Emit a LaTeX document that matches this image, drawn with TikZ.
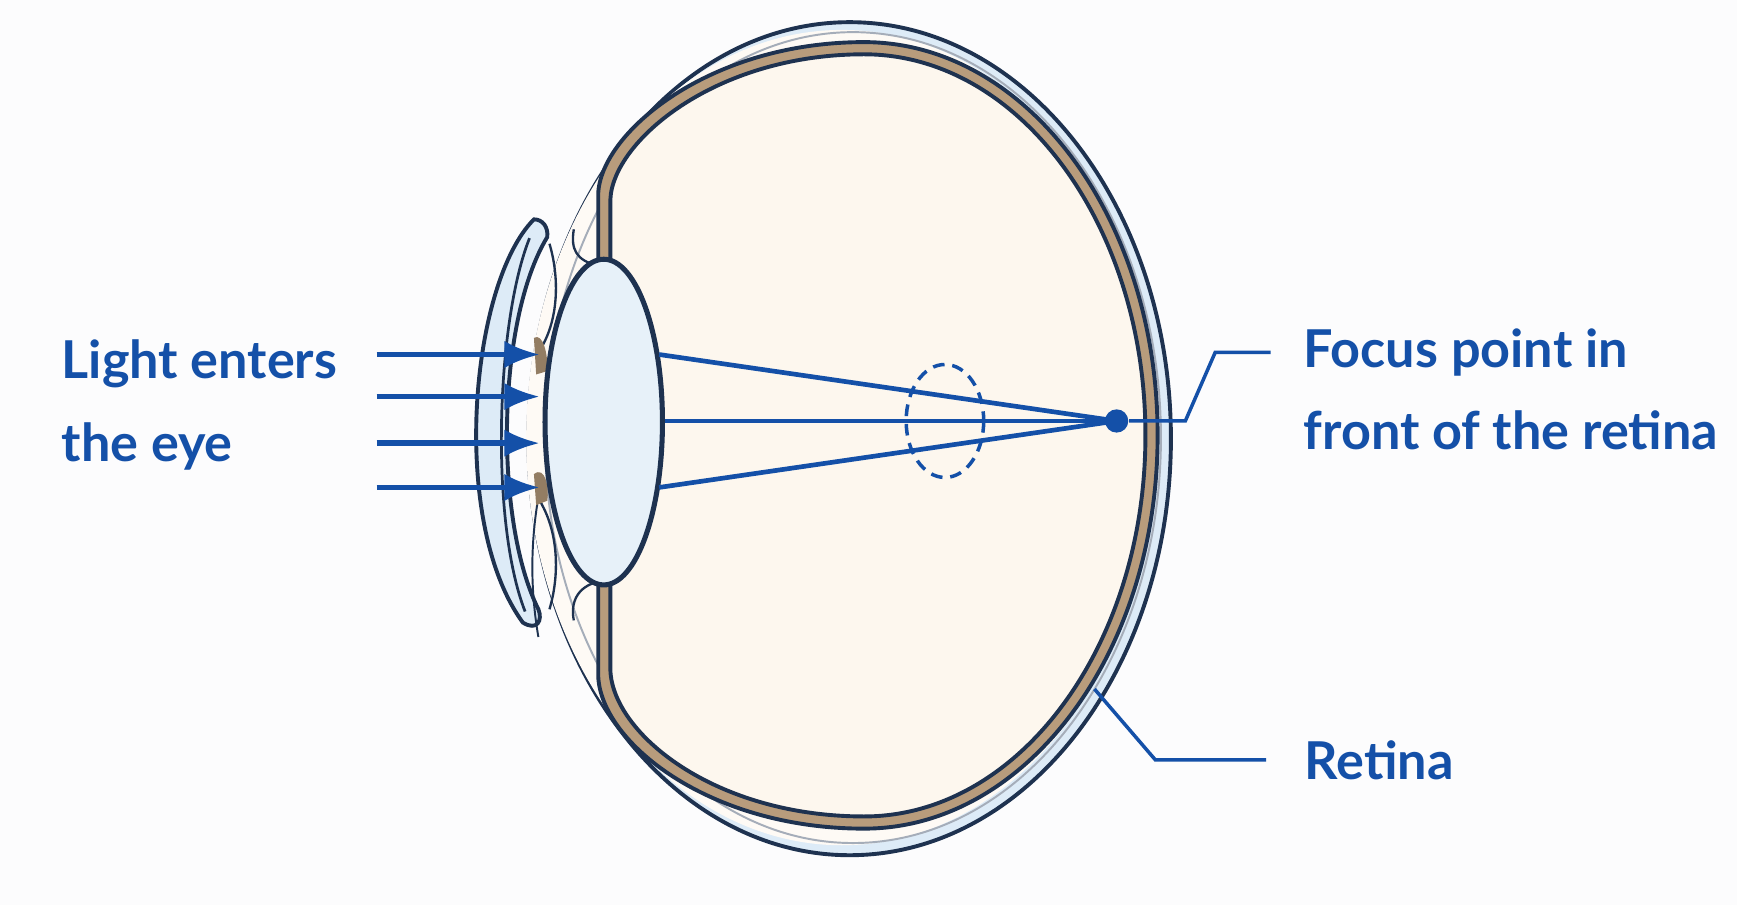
\documentclass[tikz,border=0pt]{standalone}
\usepackage{fontspec}
\setmainfont{Lato}
\usetikzlibrary{arrows.meta}
\begin{document}
\begin{tikzpicture}[x=0.01cm,y=-0.01cm,
  ray/.style={draw=rayc,line width=1.4pt},
  lab/.style={text=rayc,font=\bfseries\fontsize{13.4}{15}\selectfont,anchor=west,inner sep=0},
  lead/.style={draw=rayc,line width=0.9pt}]
\definecolor{rayc}{HTML}{1450A8}
\definecolor{dk}{HTML}{1E3250}
\definecolor{brn}{HTML}{B89C7C}
\definecolor{crm}{HTML}{FDF7EE}
\definecolor{lb}{HTML}{DDEBF7}
\definecolor{bg}{HTML}{FCFCFD}
\useasboundingbox[fill=bg] (0,0) rectangle (1568,817);
% outer globe
\draw[dk,line width=1pt,fill=lb] (767,396) ellipse [x radius=290,y radius=376];
\fill[crm!60!white] (760,395) ellipse [x radius=285,y radius=368];
\draw[dk!40,line width=0.5pt] (770,395) ellipse [x radius=278,y radius=366];
% cornea
\path[draw=dk,line width=1pt,fill=lb] (482,198) .. controls (425,255) and (405,470) .. (472,562)
  .. controls (485,570) and (490,560) .. (486,550)
  .. controls (446,470) and (448,290) .. (494,214) .. controls (495,205) and (490,198) .. cycle;
\draw[dk,line width=0.7pt] (478,215) .. controls (448,290) and (442,470) .. (474,552);
% choroid band
\path[draw=dk,line width=1pt,fill=brn] (540,235) -- (540,175) .. controls (542,120) and (640,38) .. (780,38)
  .. controls (926,38) and (1045,196) .. (1045,393) .. controls (1045,590) and (926,748) .. (780,748)
  .. controls (640,748) and (542,670) .. (540,610) -- (540,530) -- cycle;
\path[draw=dk,line width=1pt,fill=crm] (551,235) -- (551,180) .. controls (553,128) and (645,49) .. (780,49)
  .. controls (920,49) and (1034,203) .. (1034,393) .. controls (1034,583) and (920,737) .. (780,737)
  .. controls (645,737) and (553,662) .. (551,605) -- (551,530) -- cycle;
\fill[crm] (541,236) rectangle (550,529);
% ciliary / iris details
\draw[dk,line width=0.6pt] (540,240) .. controls (520,235) and (515,225) .. (518,207);
\draw[dk,line width=0.6pt] (540,525) .. controls (520,530) and (515,545) .. (518,560);
\draw[dk,line width=0.6pt] (496,220) .. controls (505,250) and (505,290) .. (486,318);
\draw[dk,line width=0.6pt] (486,450) .. controls (505,480) and (505,520) .. (496,550);
\draw[dk,line width=0.5pt] (485,455) .. controls (478,500) and (480,540) .. (486,575);
\fill[brn!80!black] (482,305) .. controls (490,300) and (495,320) .. (494,335) -- (484,338) -- cycle;
\fill[brn!80!black] (482,428) .. controls (492,420) and (496,440) .. (494,452) -- (484,456) -- cycle;
% lens
\draw[dk,line width=1.3pt,fill=lb!70!white] (545,381) ellipse [x radius=53,y radius=147];
% rays
\coordinate (F) at (1008,380);
\foreach \y/\n in {320/a,358/b,400/c,440/d}{
  \coordinate (s\n) at (340,\y); \coordinate (e\n) at (487,\y);
  \draw[ray,-{Latex[length=9pt,width=7pt]}] (s\n) -- (e\n);}
\coordinate (l1) at (595,320); \coordinate (l2) at (600,380); \coordinate (l3) at (595,440);
\draw[ray,line width=1.2pt] (l1) -- (F); \draw[ray,line width=1.2pt] (l2) -- (F); \draw[ray,line width=1.2pt] (l3) -- (F);
\draw[rayc,line width=0.9pt,dash pattern=on 3pt off 2pt] (853,380) ellipse [x radius=35,y radius=51];
\node[circle,fill=rayc,minimum size=0.21cm,inner sep=0] (dot) at (F) {};
% labels
\node[lab] (t1) at (55,328) {Light enters};
\node[lab] (t2) at (55,403) {the eye};
\node[lab] (f1) at (1176,318) {Focus point in};
\node[lab] (f2) at (1176,388) {front of the retina};
\node[lab] (r) at (1177,686) {Retina};
\coordinate (k1) at (1070,380); \coordinate (k2) at (1097,318); \coordinate (k3) at (1147,318);
\draw[lead] (dot) -- (k1) -- (k2) -- (k3);
\coordinate (q0) at (988,622); \coordinate (q1) at (1043,686); \coordinate (q2) at (1143,686);
\draw[lead] (q0) -- (q1) -- (q2);
\end{tikzpicture}
\end{document}
